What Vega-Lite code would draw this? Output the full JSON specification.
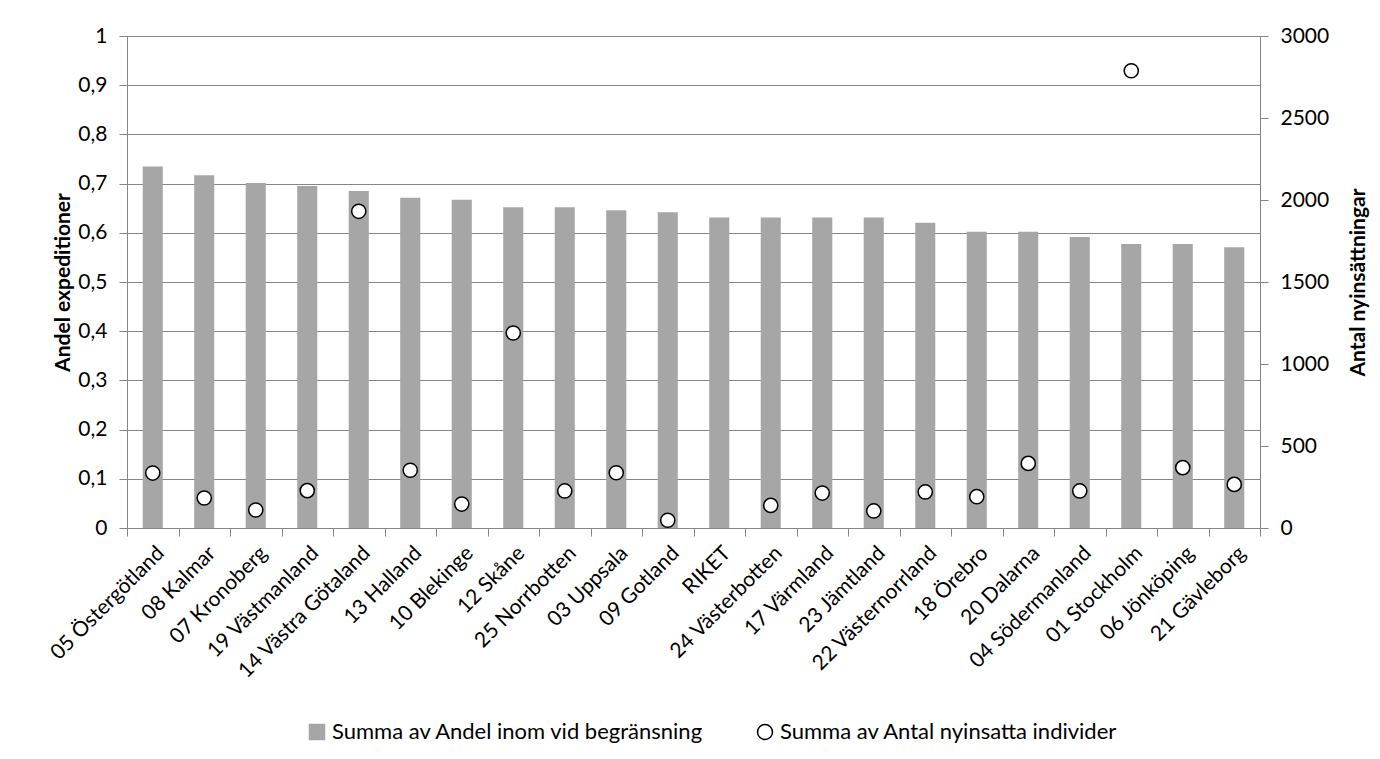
{
  "$schema": "https://vega.github.io/schema/vega-lite/v6.json",
  "width": 1133,
  "height": 492,
  "autosize": {"type": "none"},
  "padding": {"left": 127, "top": 36, "right": 120, "bottom": 231},
  "background": "white",
  "config": {
    "font": "Lato",
    "view": {"stroke": null},
    "axis": {
      "labelFont": "Lato",
      "titleFont": "Lato",
      "labelFontSize": 21,
      "titleFontSize": 21,
      "labelColor": "black",
      "titleColor": "black",
      "domainColor": "#868686",
      "tickColor": "#868686",
      "gridColor": "#868686",
      "titleFontWeight": "bold"
    }
  },
  "data": {
    "values": [
      {"lan": "05 Östergötland", "andel": 0.735, "antal": 335},
      {"lan": "08 Kalmar", "andel": 0.717, "antal": 183},
      {"lan": "07 Kronoberg", "andel": 0.701, "antal": 110},
      {"lan": "19 Västmanland", "andel": 0.695, "antal": 228},
      {"lan": "14 Västra Götaland", "andel": 0.685, "antal": 1931},
      {"lan": "13 Halland", "andel": 0.671, "antal": 352},
      {"lan": "10 Blekinge", "andel": 0.667, "antal": 146},
      {"lan": "12 Skåne", "andel": 0.652, "antal": 1189},
      {"lan": "25 Norrbotten", "andel": 0.652, "antal": 226},
      {"lan": "03 Uppsala", "andel": 0.646, "antal": 337},
      {"lan": "09 Gotland", "andel": 0.642, "antal": 47},
      {"lan": "RIKET", "andel": 0.631, "antal": null},
      {"lan": "24 Västerbotten", "andel": 0.631, "antal": 138},
      {"lan": "17 Värmland", "andel": 0.631, "antal": 213},
      {"lan": "23 Jämtland", "andel": 0.631, "antal": 104},
      {"lan": "22 Västernorrland", "andel": 0.6205, "antal": 220},
      {"lan": "18 Örebro", "andel": 0.602, "antal": 191},
      {"lan": "20 Dalarna", "andel": 0.602, "antal": 394},
      {"lan": "04 Södermanland", "andel": 0.5915, "antal": 226},
      {"lan": "01 Stockholm", "andel": 0.577, "antal": 2788},
      {"lan": "06 Jönköping", "andel": 0.577, "antal": 368},
      {"lan": "21 Gävleborg", "andel": 0.5705, "antal": 266}
    ]
  },
  "encoding": {
    "x": {
      "field": "lan",
      "type": "nominal",
      "sort": null,
      "scale": {"paddingInner": 0, "paddingOuter": 0},
      "axis": {
        "title": null,
        "labelAngle": -45,
        "tickBand": "extent",
        "tickSize": 8,
        "labelPadding": 6,
        "labelLimit": 400
      }
    }
  },
  "layer": [
    {
      "mark": {"type": "bar", "width": {"band": 0.39}},
      "encoding": {
        "y": {
          "field": "andel",
          "type": "quantitative",
          "scale": {"domain": [0, 1]},
          "axis": {
            "title": "Andel expeditioner",
            "values": [0, 0.1, 0.2, 0.3, 0.4, 0.5, 0.6, 0.7, 0.8, 0.9, 1],
            "labelExpr": "replace(format(datum.value, '.1~f'), '.', ',')",
            "grid": true,
            "tickSize": 8,
            "labelPadding": 12,
            "titlePadding": 4
          }
        },
        "color": {
          "datum": "Summa av Andel inom vid begränsning",
          "scale": {
            "domain": ["Summa av Andel inom vid begränsning", "Summa av Antal nyinsatta individer"],
            "range": ["#a6a6a6", "#ffffff"]
          },
          "legend": {
            "orient": "none",
            "legendX": 179,
            "legendY": 685,
            "direction": "horizontal",
            "title": null,
            "labelFont": "Lato",
            "labelFontSize": 22,
            "labelColor": "black",
            "labelLimit": 1000,
            "labelOffset": 4,
            "symbolSize": 225,
            "columnPadding": 50,
            "values": ["Summa av Andel inom vid begränsning", "Summa av Antal nyinsatta individer"],
            "encode": {
              "symbols": {
                "update": {
                  "shape": {"signal": "datum.value === 'Summa av Antal nyinsatta individer' ? 'circle' : 'square'"},
                  "stroke": {"signal": "datum.value === 'Summa av Antal nyinsatta individer' ? 'black' : '#a6a6a6'"},
                  "strokeWidth": {"value": 1.5},
                  "opacity": {"value": 1}
                }
              }
            }
          }
        }
      }
    },
    {
      "mark": {"type": "point", "filled": true, "stroke": "black", "strokeWidth": 1.5, "size": 200, "shape": "circle", "opacity": 1},
      "encoding": {
        "y": {
          "field": "antal",
          "type": "quantitative",
          "scale": {"domain": [0, 3000]},
          "axis": {
            "orient": "right",
            "title": "Antal nyinsättningar",
            "titleAngle": 270,
            "values": [0, 500, 1000, 1500, 2000, 2500, 3000],
            "format": "d",
            "grid": false,
            "tickSize": 8,
            "labelPadding": 12,
            "titlePadding": 40
          }
        },
        "color": {"datum": "Summa av Antal nyinsatta individer"}
      }
    }
  ],
  "resolve": {"scale": {"y": "independent"}}
}
